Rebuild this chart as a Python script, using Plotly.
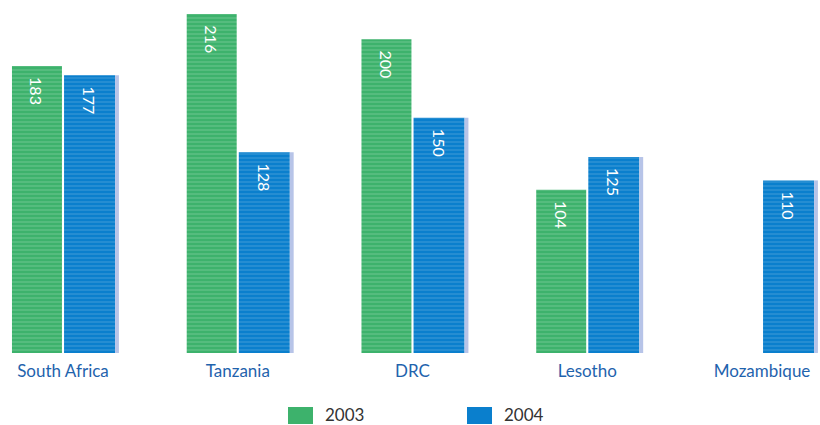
import plotly.graph_objects as go

# Category labels and the two yearly series
countries = ["South Africa", "Tanzania", "DRC", "Lesotho", "Mozambique"]
values_2003 = [183, 216, 200, 104, None]
values_2004 = [177, 128, 150, 125, 110]

green = "#3db26c"
blue = "#0a7fcd"
edge = "#b7c4e8"
label_blue = "#1f63ad"
font_family = "Lato, 'Noto Sans', sans-serif"

xpos = list(range(len(countries)))
pad = "\u00a0\u00a0"


def labels(vals):
    return [pad + str(v) if v is not None else "" for v in vals]


fig = go.Figure()

# 2003 bars sit to the left of each category centre
fig.add_trace(go.Bar(
    x=xpos, y=values_2003, name="2003",
    offset=-0.292, width=0.286,
    marker=dict(color=green, line=dict(width=0),
                pattern=dict(shape="-", fgcolor="white", bgcolor=green,
                             size=4, solidity=0.18, fgopacity=0.35)),
    text=labels(values_2003),
    textposition="inside", insidetextanchor="end", textangle=90,
    textfont=dict(color="white", size=16, family=font_family),
    cliponaxis=False,
))

# 2004 bars to the right
fig.add_trace(go.Bar(
    x=xpos, y=values_2004, name="2004",
    offset=0.006, width=0.292,
    marker=dict(color=blue, line=dict(width=0),
                pattern=dict(shape="-", fgcolor="white", bgcolor=blue,
                             size=4, solidity=0.18, fgopacity=0.3)),
    text=labels(values_2004),
    textposition="inside", insidetextanchor="end", textangle=90,
    textfont=dict(color="white", size=16, family=font_family),
    cliponaxis=False,
))

# thin side face giving the 2004 bars a bevelled edge
fig.add_trace(go.Bar(
    x=xpos, y=values_2004, name="edge",
    offset=0.298, width=0.022,
    marker=dict(color=edge, line=dict(width=0)),
    hoverinfo="skip", showlegend=False,
))

fig.update_layout(
    width=820, height=425,
    margin=dict(l=0, r=0, t=0, b=72),
    barmode="overlay",
    plot_bgcolor="white", paper_bgcolor="white",
    showlegend=False,
    font=dict(family=font_family),
    xaxis=dict(
        range=[-0.3605, 4.3319],
        tickmode="array", tickvals=xpos, ticktext=countries,
        tickfont=dict(color=label_blue, size=17, family=font_family),
        ticklabelstandoff=6,
        showgrid=False, zeroline=False, showline=False, ticks="",
    ),
    yaxis=dict(range=[0, 225], visible=False, showgrid=False, zeroline=False),
)

# legend swatches and labels below the axis
legend_items = [("2003", green, 288), ("2004", blue, 467)]
for label, color, px in legend_items:
    fig.add_shape(type="rect", xref="paper", yref="paper",
                  x0=px / 820, x1=(px + 25) / 820,
                  y0=(353 - 424) / 353, y1=(353 - 407) / 353,
                  fillcolor=color, line=dict(width=0))
    fig.add_annotation(xref="paper", yref="paper",
                       x=(px + 35) / 820, y=(353 - 414) / 353,
                       text=label, showarrow=False, xanchor="left", yanchor="middle",
                       font=dict(color="#333333", size=17, family=font_family))

fig.write_html("out.html")
